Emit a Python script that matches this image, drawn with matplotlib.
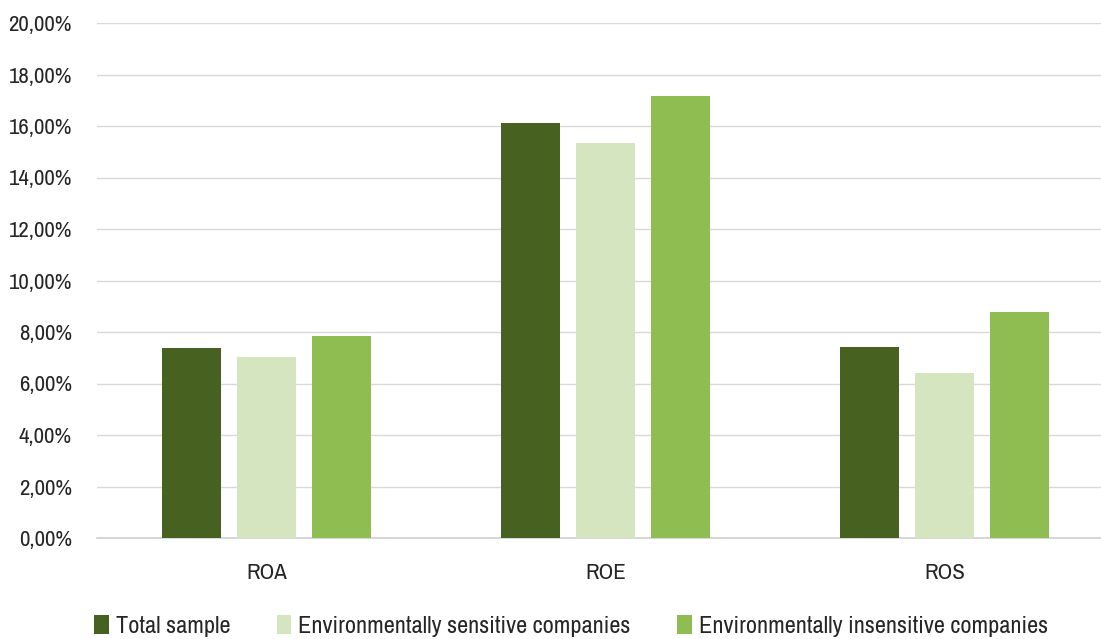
import matplotlib
matplotlib.use("Agg")
import matplotlib.pyplot as plt
from matplotlib import font_manager
import numpy as np

categories = ["ROA", "ROE", "ROS"]
series_names = ["Total sample", "Environmentally sensitive companies",
                "Environmentally insensitive companies"]
total_sample = [7.38, 16.12, 7.42]
sensitive = [7.03, 15.34, 6.41]
insensitive = [7.84, 17.17, 8.78]
y_ticks = [0, 2, 4, 6, 8, 10, 12, 14, 16, 18, 20]

colors = ["#466120", "#D4E5BF", "#8FBD52"]

# pick a narrow font if one is installed, else Roboto
names = sorted({f.name for f in font_manager.fontManager.ttflist})
narrow = [n for n in names if "Condensed" in n or "Narrow" in n]
family = narrow[0] if narrow else "Roboto"
plt.rcParams["font.family"] = [family, "DejaVu Sans"]

W, H = 1101, 639
fig = plt.figure(figsize=(W / 100, H / 100), dpi=100)
ax = fig.add_axes([97 / W, (H - 538) / H, (W - 97) / W, (538 - 23) / H])

x = np.arange(len(categories))
offset = 0.2215
width = 0.174
for i, (vals, name) in enumerate(zip([total_sample, sensitive, insensitive], series_names)):
    ax.bar(x + (i - 1) * offset, vals, width, color=colors[i], label=name, zorder=3)

ax.set_xlim(-0.5, -0.5 + (W - 97) / 339)
ax.set_ylim(0, 20)
ax.set_yticks(y_ticks)
ax.set_yticklabels([f"{v:.2f}".replace(".", ",") + "%" for v in y_ticks])
ax.set_xticks(x)
ax.set_xticklabels(categories)
ax.grid(axis="y", color="#D9D9D9", linewidth=1, zorder=0)
for s in ["top", "right", "left"]:
    ax.spines[s].set_visible(False)
ax.spines["bottom"].set_color("#D0D0D0")
ax.spines["bottom"].set_linewidth(1.2)
ax.tick_params(axis="both", length=0, labelsize=16.5, colors="#262626")
ax.tick_params(axis="y", pad=18)
ax.tick_params(axis="x", pad=18)

leg = fig.legend(loc="center", bbox_to_anchor=(571 / W, (H - 626) / H), ncol=3,
                 frameon=False, fontsize=17.5, handlelength=0.6, handleheight=0.8,
                 handletextpad=0.3, columnspacing=1.9)
for t in leg.get_texts():
    t.set_color("#262626")

fig.savefig("out.png", dpi=100)
